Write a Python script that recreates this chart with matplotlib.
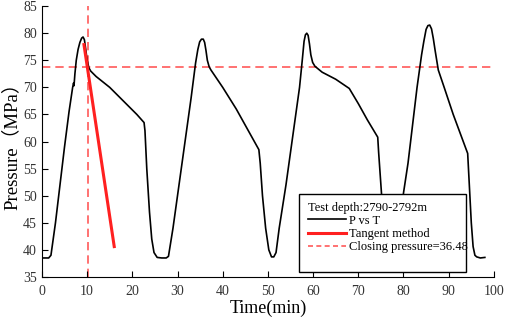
import matplotlib
matplotlib.use('Agg')
import matplotlib.pyplot as plt
import matplotlib.patches as mpatches

# pressure record (time in min, pressure in MPa)
t = [0, 1.5, 2.0, 3, 4, 5, 6, 6.8, 7.0, 7.1, 7.3, 7.6, 8.0, 8.4, 8.8, 9.1, 9.4, 9.7, 10.0, 10.4, 10.8,
     12, 15, 18, 21, 22.6, 22.8, 23.2, 23.8, 24.3, 24.8, 25.5, 26.5, 27.5, 28, 29, 30, 31,
     32, 33, 34.0, 34.5, 34.9, 35.3, 35.7, 36.0, 36.3, 36.6, 37.0, 37.4, 40, 43, 46, 48, 48.3, 48.8, 49.5,
     50.2, 50.8, 51.3, 51.8, 52.5, 54, 55.5, 57, 57.6, 58.0, 58.3, 58.6, 58.9, 59.2, 59.5, 59.9, 60.4, 62,
     65, 68, 70, 72, 74.3, 74.5, 75, 75.5, 76, 76.5, 77.5, 78.5, 79.2, 80, 81, 82, 83, 84,
     84.5, 85.0, 85.4, 85.8, 86.2, 86.6, 87.0, 87.7, 89, 91, 93, 94.2, 94.5, 95, 95.4, 95.8, 96.2, 97, 98]
p = [38.5, 38.5, 39.0, 45, 52, 59, 65.5, 70, 70.8, 70.3, 72.5, 75, 77, 78.3, 79.1, 79.3, 78.8, 77, 75, 73.6, 73,
     72, 70, 67.5, 65, 63.5, 62, 55, 47, 42, 39.5, 38.6, 38.5, 38.5, 38.8, 44, 50, 56,
     62, 68, 74.5, 77, 78.4, 78.9, 78.9, 78.3, 76.8, 75, 73.8, 73.2, 70, 66, 61.5, 58.5, 56, 50, 44,
     40, 38.7, 38.7, 39.5, 44, 52, 61, 70, 75, 78.5, 79.7, 80, 79.6, 78, 76, 74.6, 73.9, 72.8,
     71.5, 69.8, 67, 64, 60.8, 58, 52, 46, 41, 39, 38.5, 39, 43, 50.5, 56, 63, 70, 76,
     78.5, 80.7, 81.4, 81.5, 80.8, 79, 76.8, 73.2, 70, 65, 60.5, 57.8, 53, 45, 40.6, 39, 38.7, 38.5, 38.6]

tan_t = [9.3, 16.0]
tan_p = [77.9, 40.6]

close_t = 10.25
close_p = 73.7

depth_label = 'Test depth:2790-2792m'
labels = ['P vs T', 'Tangent method', 'Closing pressure=36.48']

serif = ['Liberation Serif', 'Noto Sans CJK SC', 'DejaVu Sans']
plt.rcParams['font.family'] = serif

fig = plt.figure(figsize=(5.05, 3.22), dpi=100)
ax = fig.add_axes([0.083, 0.14, 0.895, 0.841])

red_dash = '#ff5a5a'
ax.axvline(close_t, color=red_dash, lw=1.2, dashes=(5, 3), zorder=1)
ax.axhline(close_p, xmin=0, xmax=0.995, color=red_dash, lw=1.2, dashes=(5, 3), zorder=1)
l1, = ax.plot(t, p, color='black', lw=1.2, zorder=2)
l2, = ax.plot(tan_t, tan_p, color='#ff2020', lw=2.2, zorder=3)
l3, = ax.plot([], [], color=red_dash, lw=1.2, dashes=(3, 2))

ax.set_xlim(0, 100)
ax.set_ylim(35, 85)
ax.set_xticks(range(0, 101, 10))
ax.set_yticks(range(35, 86, 5))
ax.spines['top'].set_visible(False)
ax.spines['right'].set_visible(False)
ax.tick_params(direction='in', labelsize=10, labelcolor='#333333', length=4)
ax.tick_params(axis='x', pad=6)
ax.set_xlabel('Time(min)', fontsize=13, labelpad=1)
ax.set_ylabel('Pressure（MPa）', fontsize=13.5, labelpad=2)

# legend frame drawn separately (box is taller than its contents)
box = mpatches.Rectangle((0.569, 0.017), 0.37, 0.289, transform=ax.transAxes,
                         facecolor='white', edgecolor='black', lw=1.0, zorder=4)
ax.add_patch(box)
leg = ax.legend([l1, l2, l3], labels, title=depth_label, loc='upper left',
                bbox_to_anchor=(0.567, 0.315), frameon=False, fontsize=9,
                title_fontsize=9, handlelength=3.0, handletextpad=0.3,
                labelspacing=0.1, borderpad=0.3, alignment='left')
leg.set_zorder(5)

fig.savefig('out.png', dpi=100)
